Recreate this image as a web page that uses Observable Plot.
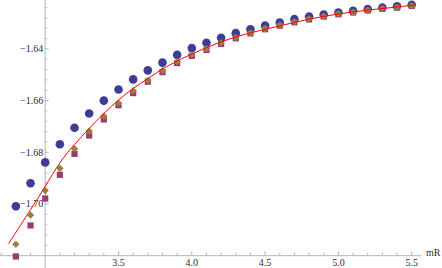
<!DOCTYPE html>
<html>
<head>
<meta charset="utf-8">
<script src="https://cdn.jsdelivr.net/npm/d3@7"></script>
<script src="https://cdn.jsdelivr.net/npm/@observablehq/plot@0.6"></script>
<style>
  html, body { margin: 0; padding: 0; background: #fff; }
  #chart svg { display: block; }
  #chart svg text { font-family: "Times New Roman", "Liberation Serif", "DejaVu Serif", Tinos, serif !important; font-size: 10px; }
</style>
</head>
<body>
<div id="chart"></div>
<script>
// ---- data ----
const mR = [2.8, 2.9, 3.0, 3.1, 3.2, 3.3, 3.4, 3.5, 3.6, 3.7, 3.8, 3.9, 4.0, 4.1, 4.2, 4.3, 4.4, 4.5, 4.6, 4.7, 4.8, 4.9, 5.0, 5.1, 5.2, 5.3, 5.4, 5.5];
const seriesCircle = [-1.7009, -1.6920, -1.6839, -1.6769, -1.6705, -1.6650, -1.6600, -1.6557, -1.6518, -1.6483, -1.6453, -1.6423, -1.6397, -1.6376, -1.6357, -1.6339, -1.6324, -1.6310, -1.6298, -1.6285, -1.6275, -1.6267, -1.6259, -1.6253, -1.6246, -1.6240, -1.6235, -1.6229];
const seriesDiamond = [-1.7156, -1.7043, -1.6948, -1.6862, -1.6786, -1.6718, -1.6660, -1.6610, -1.6562, -1.6522, -1.6484, -1.6449, -1.6422, -1.6400, -1.6377, -1.6356, -1.6338, -1.6321, -1.6308, -1.6295, -1.6284, -1.6274, -1.6264, -1.6258, -1.6250, -1.6244, -1.6239, -1.6233];
const seriesSquare = [-1.7203, -1.7083, -1.6979, -1.6887, -1.6806, -1.6735, -1.6673, -1.6618, -1.6571, -1.6527, -1.6490, -1.6455, -1.6427, -1.6404, -1.6381, -1.6359, -1.6340, -1.6324, -1.6310, -1.6297, -1.6286, -1.6275, -1.6266, -1.6259, -1.6251, -1.6245, -1.6240, -1.6234];
const fitX = [2.752, 2.9, 3.0, 3.1, 3.2, 3.3, 3.4, 3.5, 3.6, 3.7, 3.8, 3.9, 4.0, 4.2, 4.4, 4.6, 4.8, 5.0, 5.2, 5.4, 5.52];
const fitY = [-1.7152, -1.7022, -1.6932, -1.6841, -1.6770, -1.6708, -1.6650, -1.6598, -1.6553, -1.6515, -1.6478, -1.6447, -1.6420, -1.6373, -1.6338, -1.6311, -1.6285, -1.6265, -1.6250, -1.6238, -1.6230];
const xTickValues = [3.5, 4.0, 4.5, 5.0, 5.5];
const xTickLabels = ["3.5", "4.0", "4.5", "5.0", "5.5"];
const yTickValues = [-1.64, -1.66, -1.68, -1.70];
const yTickLabels = ["\u22121.64", "\u22121.66", "\u22121.68", "\u22121.70"];
const xAxisLabel = "mR";

// ---- layout ----
const W = 442, H = 268;
const xPx = 146.6;          // pixels per x unit
const yPx = 2585;           // pixels per y unit
const mLeft = 44.7, mBottom = 12.8;
const xOrigin = 3.0, yOrigin = -1.72;
const xMax = xOrigin + (W - mLeft) / xPx;
const yMax = yOrigin + (H - mBottom) / yPx;
const xMinVis = xOrigin - mLeft / xPx;
const yMinVis = yOrigin - mBottom / yPx;

const circles = mR.map((x, i) => ({x, y: seriesCircle[i]}));
const diamonds = mR.map((x, i) => ({x, y: seriesDiamond[i]}));
const squares = mR.map((x, i) => ({x, y: seriesSquare[i]}));
const fit = fitX.map((x, i) => ({x, y: fitY[i]}));

const xMinor = d3.range(27, 56).map(d => d / 10).filter(v => v >= xMinVis && Math.abs(v * 2 - Math.round(v * 2)) > 1e-6);
const yMinor = d3.range(-430, -405).map(d => d / 250).filter(v => v < yMax && Math.abs(v * 50 - Math.round(v * 50)) > 1e-6);

const axisColor = "#b4b4b4";
const textColor = "#2a2a2a";
const serif = "Times New Roman, Liberation Serif, DejaVu Serif, serif";

const chart = Plot.plot({
  width: W, height: H,
  marginLeft: mLeft, marginRight: 0, marginTop: 0, marginBottom: mBottom,
  x: {domain: [xOrigin, xMax], axis: null},
  y: {domain: [yOrigin, yMax], axis: null},
  style: {fontFamily: serif, fontSize: "10px", background: "#fff", overflow: "visible"},
  marks: [
    // axes lines
    Plot.ruleY([yOrigin], {x1: xMinVis, x2: 5.57, stroke: axisColor, strokeWidth: 1}),
    Plot.ruleX([xOrigin], {y1: yMinVis, y2: yMax, stroke: axisColor, strokeWidth: 1}),
    // x ticks (pointing up)
    Plot.ruleX(xTickValues, {y1: yOrigin, y2: yOrigin + 4 / yPx, stroke: axisColor}),
    Plot.ruleX(xMinor, {y1: yOrigin, y2: yOrigin + 2.5 / yPx, stroke: axisColor}),
    // y ticks (pointing right)
    Plot.ruleY(yTickValues, {x1: xOrigin, x2: xOrigin + 4 / xPx, stroke: axisColor}),
    Plot.ruleY(yMinor, {x1: xOrigin, x2: xOrigin + 2.5 / xPx, stroke: axisColor}),
    // tick labels
    Plot.text(xTickValues, {x: d => d, y: yOrigin, text: (d, i) => xTickLabels[i], dy: 7.5, fill: textColor, fontFamily: serif, fontSize: 10.5}),
    Plot.text(yTickValues, {x: xOrigin, y: d => d, text: (d, i) => yTickLabels[i], dx: -2, textAnchor: "end", fill: textColor, fontFamily: serif, fontSize: 10.5}),
    Plot.text([xAxisLabel], {x: xMax, y: yOrigin, text: d => d, textAnchor: "end", dx: -2, dy: -3, fill: textColor, fontFamily: serif, fontSize: 10.5}),
    // data
    Plot.dot(circles, {x: "x", y: "y", r: 4.3, fill: "#3d3d99", symbol: "circle"}),
    Plot.dot(squares, {x: "x", y: "y", r: 3.5, fill: "#993d6b", symbol: "square"}),
    Plot.dot(diamonds, {x: "x", y: "y", r: 3.3, fill: "#997f3d", symbol: "diamond2"}),
    Plot.line(fit, {x: "x", y: "y", stroke: "#ff0000", strokeWidth: 1, curve: "natural"})
  ]
});
document.getElementById("chart").appendChild(chart);
</script>
</body>
</html>
